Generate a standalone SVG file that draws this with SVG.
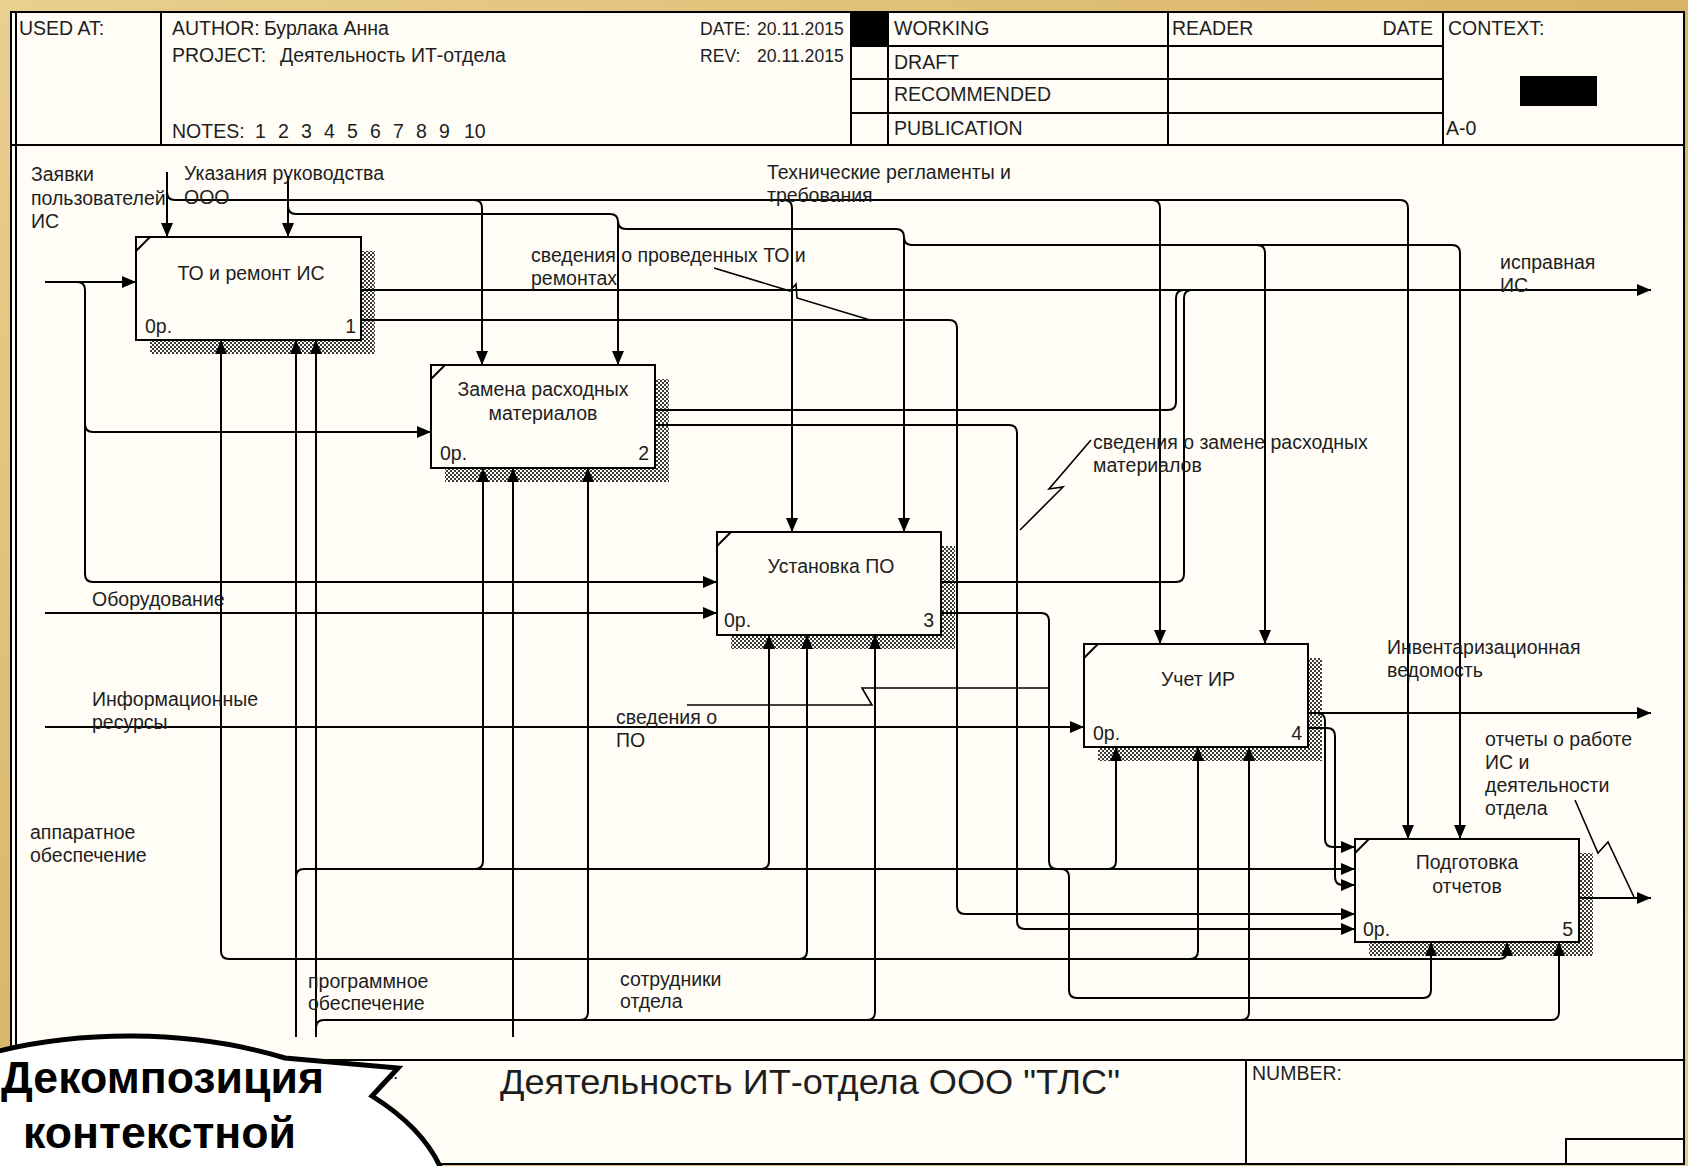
<svg xmlns="http://www.w3.org/2000/svg" width="1688" height="1166" viewBox="0 0 1688 1166">
<defs>
<pattern id="hatch" width="4" height="4" patternUnits="userSpaceOnUse">
<rect width="4" height="4" fill="#fffdf6"/>
<rect width="2" height="2" fill="#3a3a3a"/>
<rect x="2" y="2" width="2" height="2" fill="#3a3a3a"/>
</pattern>
<marker id="ah" viewBox="0 0 14 12" refX="14" refY="6" markerWidth="14" markerHeight="12" markerUnits="userSpaceOnUse" orient="auto">
<path d="M0,0 L14,6 L0,12 Z" fill="#000"/>
</marker>
<linearGradient id="gold" x1="0" y1="0" x2="1" y2="1">
<stop offset="0" stop-color="#e9d08e"/>
<stop offset="0.5" stop-color="#d8b466"/>
<stop offset="1" stop-color="#e6cb87"/>
</linearGradient>
</defs>
<style>
.t{font-family:"Liberation Sans",Arial,sans-serif;font-size:19.5px;fill:#1e1e1e}
.d{font-size:17.6px}
.m{text-anchor:middle}
.e{text-anchor:end}
.ln{fill:none;stroke:#000;stroke-width:2}
.c{fill:none;stroke:#000;stroke-width:2}
.a{marker-end:url(#ah)}
.box{fill:#fffdf6;stroke:#000;stroke-width:2}
.sh{fill:url(#hatch)}
.sq{fill:none;stroke:#000;stroke-width:1.6}
.co{font-family:"Liberation Sans",Arial,sans-serif;font-weight:bold;font-size:44px;fill:#000}
</style>

<rect x="0" y="0" width="1688" height="1166" fill="url(#gold)"/>
<rect x="11" y="12" width="1673" height="1152" fill="#fffdf6" stroke="#000" stroke-width="2"/>
<line class="ln" x1="16" y1="12" x2="16" y2="1164"/>

<g id="header">
<line class="ln" x1="11" y1="145" x2="1684" y2="145"/>
<line class="ln" x1="161" y1="12" x2="161" y2="145"/>
<line class="ln" x1="851" y1="12" x2="851" y2="145"/>
<line class="ln" x1="888" y1="12" x2="888" y2="145"/>
<line class="ln" x1="1168" y1="12" x2="1168" y2="145"/>
<line class="ln" x1="1443" y1="12" x2="1443" y2="145"/>
<line class="ln" x1="851" y1="46" x2="1443" y2="46"/>
<line class="ln" x1="851" y1="79" x2="1443" y2="79"/>
<line class="ln" x1="851" y1="113" x2="1443" y2="113"/>
<rect x="851" y="12" width="37" height="34" fill="#000"/>
<rect x="1520" y="76" width="77" height="30" fill="#000"/>
<text class="t" x="19" y="35">USED AT:</text>
<text class="t" x="172" y="35">AUTHOR:</text>
<text class="t" x="264" y="35">Бурлака Анна</text>
<text class="t" x="172" y="62">PROJECT:</text>
<text class="t" x="280" y="62">Деятельность ИТ-отдела</text>
<text class="t" x="172" y="138">NOTES:<tspan x="255">1</tspan><tspan x="278">2</tspan><tspan x="301">3</tspan><tspan x="324">4</tspan><tspan x="347">5</tspan><tspan x="370">6</tspan><tspan x="393">7</tspan><tspan x="416">8</tspan><tspan x="439">9</tspan><tspan x="464">10</tspan></text>
<text class="t d" x="700" y="35">DATE:</text>
<text class="t d" x="757" y="35">20.11.2015</text>
<text class="t d" x="700" y="62">REV:</text>
<text class="t d" x="757" y="62">20.11.2015</text>
<text class="t" x="894" y="35">WORKING</text>
<text class="t" x="894" y="69">DRAFT</text>
<text class="t" x="894" y="101">RECOMMENDED</text>
<text class="t" x="894" y="135">PUBLICATION</text>
<text class="t" x="1172" y="35">READER</text>
<text class="t e" x="1433" y="35">DATE</text>
<text class="t" x="1448" y="35">CONTEXT:</text>
<text class="t" x="1446" y="135">A-0</text>
</g>

<g id="shadows">
<path class="sh" d="M361,251 H375 V354 H150 V340 H361 Z"/>
<path class="sh" d="M655,379 H669 V482 H445 V468 H655 Z"/>
<path class="sh" d="M941,546 H955 V649 H731 V635 H941 Z"/>
<path class="sh" d="M1308,658 H1322 V761 H1098 V747 H1308 Z"/>
<path class="sh" d="M1579,853 H1593 V956 H1369 V942 H1579 Z"/>
</g>

<g id="box1">
<rect class="box" x="136" y="237" width="225" height="103"/>
<line class="ln" x1="136" y1="251" x2="150" y2="237"/>
<text class="t m" x="251" y="280">ТО и ремонт ИС</text>
<text class="t" x="145" y="333">0р.</text>
<text class="t e" x="356" y="333">1</text>
</g>
<g id="box2">
<rect class="box" x="431" y="365" width="224" height="103"/>
<line class="ln" x1="431" y1="379" x2="445" y2="365"/>
<text class="t m" x="543" y="396">Замена расходных</text>
<text class="t m" x="543" y="420">материалов</text>
<text class="t" x="440" y="460">0р.</text>
<text class="t e" x="649" y="460">2</text>
</g>
<g id="box3">
<rect class="box" x="717" y="532" width="224" height="103"/>
<line class="ln" x1="717" y1="546" x2="731" y2="532"/>
<text class="t m" x="831" y="573">Установка ПО</text>
<text class="t" x="724" y="627">0р.</text>
<text class="t e" x="934" y="627">3</text>
</g>
<g id="box4">
<rect class="box" x="1084" y="644" width="224" height="103"/>
<line class="ln" x1="1084" y1="658" x2="1098" y2="644"/>
<text class="t m" x="1198" y="686">Учет ИР</text>
<text class="t" x="1093" y="740">0р.</text>
<text class="t e" x="1302" y="740">4</text>
</g>
<g id="box5">
<rect class="box" x="1355" y="839" width="224" height="103"/>
<line class="ln" x1="1355" y1="853" x2="1369" y2="839"/>
<text class="t m" x="1467" y="869">Подготовка</text>
<text class="t m" x="1467" y="893">отчетов</text>
<text class="t" x="1363" y="936">0р.</text>
<text class="t e" x="1573" y="936">5</text>
</g>

<g id="connectors">
<path class="c a" d="M45,282 H136"/>
<path class="c a" d="M77,282 Q85,282 85,290 V574 Q85,582 93,582 H717"/>
<path class="c a" d="M85,424 Q85,432 93,432 H431"/>
<path class="c a" d="M45,613 H717"/>
<path class="c a" d="M45,727 H1084"/>
<path class="c a" d="M167,172 V237"/>
<path class="c a" d="M167,192 Q167,200 175,200 H1400 Q1408,200 1408,208 V839"/>
<path class="c a" d="M474,200 Q482,200 482,208 V365"/>
<path class="c a" d="M1152,200 Q1160,200 1160,208 V644"/>
<path class="c a" d="M784,200 Q792,200 792,208 V532"/>
<path class="c a" d="M288,176 V237"/>
<path class="c a" d="M288,206 Q288,214 296,214 H610 Q618,214 618,222 V365"/>
<path class="c a" d="M618,221 Q618,229 626,229 H896 Q904,229 904,237 V532"/>
<path class="c a" d="M904,237 Q904,245 912,245 H1452 Q1460,245 1460,253 V839"/>
<path class="c a" d="M1257,245 Q1265,245 1265,253 V644"/>
<path class="c a" d="M361,290 H1651"/>
<path class="c a" d="M361,320 H949 Q957,320 957,328 V906 Q957,914 965,914 H1355"/>
<path class="c" d="M655,410 H1168 Q1176,410 1176,402 V298 Q1176,290 1184,290"/>
<path class="c a" d="M655,425 H1009 Q1017,425 1017,433 V921 Q1017,929 1025,929 H1355"/>
<path class="c" d="M941,582 H1176 Q1184,582 1184,574 V298 Q1184,290 1192,290"/>
<path class="c a" d="M941,613 H1041 Q1049,613 1049,621 V861 Q1049,869 1057,869 H1061 Q1069,869 1069,877 V990 Q1069,998 1077,998 H1423 Q1431,998 1431,990 V942"/>
<path class="c a" d="M1308,713 H1651"/>
<path class="c a" d="M1317,713 Q1325,713 1325,721 V839 Q1325,847 1333,847 H1355"/>
<path class="c a" d="M1308,728 H1327 Q1335,728 1335,736 V877 Q1335,885 1343,885 H1355"/>
<path class="c a" d="M1579,898 H1651"/>
<path class="c a" d="M296,1037 V340"/>
<path class="c a" d="M296,877 Q296,869 304,869 H1355"/>
<path class="c a" d="M475,869 Q483,869 483,861 V468"/>
<path class="c a" d="M761,869 Q769,869 769,861 V635"/>
<path class="c a" d="M1108,869 Q1116,869 1116,861 V747"/>
<path class="c a" d="M316,1037 V340"/>
<path class="c a" d="M316,1028 Q316,1020 324,1020 H1551 Q1559,1020 1559,1012 V942"/>
<path class="c a" d="M580,1020 Q588,1020 588,1012 V468"/>
<path class="c a" d="M867,1020 Q875,1020 875,1012 V635"/>
<path class="c a" d="M1241,1020 Q1249,1020 1249,1012 V747"/>
<path class="c a" d="M513,1037 V468"/>
<path class="c a" d="M513,959 H229 Q221,959 221,951 V340"/>
<path class="c a" d="M513,959 H1499 Q1507,959 1507,951 V942"/>
<path class="c a" d="M799,959 Q807,959 807,951 V635"/>
<path class="c a" d="M1190,959 Q1198,959 1198,951 V747"/>
<path class="sq" d="M714,268 L790,291 L796,284 L797,298 L870,320"/>
<path class="sq" d="M1091,440 L1049,489 L1063,487 L1020,530"/>
<path class="sq" d="M687,705 H872 L862,688 H1049"/>
<path class="sq" d="M1575,800 L1598,853 L1608,842 L1634,897"/>
</g>

<g id="labels">
<text class="t" x="31" y="181">Заявки</text>
<text class="t" x="31" y="205">пользователей</text>
<text class="t" x="31" y="228">ИС</text>
<text class="t" x="184" y="180">Указания руководства</text>
<text class="t" x="184" y="204">ООО</text>
<text class="t" x="767" y="179">Технические регламенты и</text>
<text class="t" x="767" y="202">требования</text>
<text class="t" x="531" y="262">сведения о проведенных ТО и</text>
<text class="t" x="531" y="285">ремонтах</text>
<text class="t" x="1500" y="269">исправная</text>
<text class="t" x="1500" y="292">ИС</text>
<text class="t" x="1093" y="449">сведения о замене расходных</text>
<text class="t" x="1093" y="472">материалов</text>
<text class="t" x="92" y="606">Оборудование</text>
<text class="t" x="92" y="706">Информационные</text>
<text class="t" x="92" y="729">ресурсы</text>
<text class="t" x="616" y="724">сведения о</text>
<text class="t" x="616" y="747">ПО</text>
<text class="t" x="1387" y="654">Инвентаризационная</text>
<text class="t" x="1387" y="677">ведомость</text>
<text class="t" x="1485" y="746">отчеты о работе</text>
<text class="t" x="1485" y="769">ИС и</text>
<text class="t" x="1485" y="792">деятельности</text>
<text class="t" x="1485" y="815">отдела</text>
<text class="t" x="30" y="839">аппаратное</text>
<text class="t" x="30" y="862">обеспечение</text>
<text class="t" x="308" y="988">программное</text>
<text class="t" x="308" y="1010">обеспечение</text>
<text class="t" x="620" y="986">сотрудники</text>
<text class="t" x="620" y="1008">отдела</text>
</g>

<g id="footer">
<line class="ln" x1="11" y1="1060" x2="1684" y2="1060"/>
<line class="ln" x1="1246" y1="1060" x2="1246" y2="1164"/>
<polyline class="ln" points="1566,1164 1566,1139 1684,1139"/>
<text class="t" x="340" y="1079">TITLE:</text>
<text class="t" x="500" y="1094" style="font-size:35px" textLength="620" lengthAdjust="spacingAndGlyphs">Деятельность ИТ-отдела  ООО "ТЛС"</text>
<text class="t" x="1252" y="1080">NUMBER:</text>
</g>

<g id="callout">
<path d="M-20,1056 A320,173 0 0 1 285,1058 L398,1068 L372,1096 A320,173 0 0 1 445,1179 L445,1200 L-20,1200 Z" fill="#ffffff" stroke="#000" stroke-width="5" stroke-linejoin="miter"/>
<text class="co" x="1" y="1093" textLength="323" lengthAdjust="spacingAndGlyphs">Декомпозиция</text>
<text class="co" x="23" y="1148" textLength="273" lengthAdjust="spacingAndGlyphs">контекстной</text>
</g>
</svg>
